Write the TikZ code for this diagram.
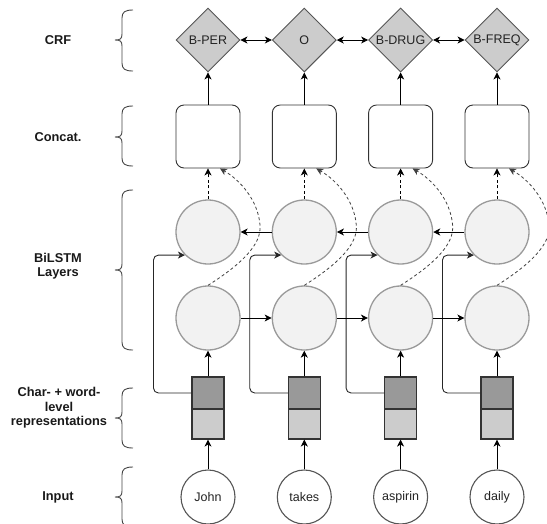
\documentclass[tikz,border=0pt]{standalone}
\usepackage{fontspec}
\setmainfont{Liberation Sans}
\usetikzlibrary{shapes.geometric,arrows.meta,calc}
\definecolor{crffill}{HTML}{CCCCCC}
\definecolor{crfborder}{HTML}{555555}
\definecolor{boxborder}{HTML}{333333}
\definecolor{lstmfill}{HTML}{F2F2F2}
\definecolor{lstmborder}{HTML}{9A9A9A}
\definecolor{cdark}{HTML}{999999}
\definecolor{clight}{HTML}{CCCCCC}
\definecolor{repborder}{HTML}{333333}
\definecolor{inpborder}{HTML}{555555}
\definecolor{braceborder}{HTML}{444444}
\definecolor{txtgray}{HTML}{222222}
\begin{document}
\begin{tikzpicture}[x=1pt,y=-1pt,
  font=\fontsize{12.5}{15}\selectfont,
  tipstyle/.style={-{Stealth[length=7pt,width=7pt,inset=2pt]}},
  conn/.style={line width=0.9pt, draw=black, tipstyle},
  dconn/.style={conn, dash pattern=on 3pt off 2.5pt},
  dcurve/.style={line width=0.8pt, draw=black!75, tipstyle, dash pattern=on 3pt off 2.5pt},
  both/.style={line width=0.9pt, draw=black, {Stealth[length=7pt,width=7pt,inset=2pt]}-{Stealth[length=7pt,width=7pt,inset=2pt]}},
  crf/.style={diamond, aspect=1, minimum width=64pt, minimum height=64pt, inner sep=0pt, fill=crffill, draw=crfborder, line width=0.9pt, text=txtgray},
  concat/.style={rectangle, rounded corners=8pt, minimum width=64pt, minimum height=63pt, inner sep=0pt, draw=boxborder, fill=white, line width=0.9pt},
  lstm/.style={circle, minimum size=64pt, inner sep=0pt, fill=lstmfill, draw=lstmborder, line width=1.3pt},
  repup/.style={rectangle, minimum width=32pt, minimum height=32pt, inner sep=0pt, fill=cdark, draw=repborder, line width=1.1pt},
  replow/.style={rectangle, minimum width=32pt, minimum height=30pt, inner sep=0pt, fill=clight, draw=repborder, line width=1.1pt},
  inp/.style={circle, minimum size=54pt, inner sep=0pt, fill=white, draw=inpborder, line width=1.1pt, text=txtgray},
  lab/.style={font=\fontsize{12.8}{14.5}\selectfont\bfseries, align=center, text=black!90},
  skip/.style={line width=0.9pt, draw=black!85, rounded corners=5pt, tipstyle}
]
\useasboundingbox (0,0) rectangle (547,523);
\clip (0,0) rectangle (547,523);

% labels
\node[lab] (lcrf) at (58,40) {CRF};
\node[lab] (lcat) at (58,137) {Concat.};
\node[lab] (llstm) at (58,266) {BiLSTM\\Layers};
\node[lab] (lrep) at (59,408) {Char- + word-\\level\\representations};
\node[lab] (linp) at (58,497) {Input};

% braces: top, mid, bottom
\foreach \t/\m/\b in {10/40/71, 106/137/166, 190/270/350, 388/418/448, 467/497/527}{
  \draw[draw=braceborder, line width=0.9pt]
    (133,\t) .. controls (125,\t) and (122,\t+2) .. (122,\t+8)
    -- (122,\m-6) .. controls (122,\m-1) and (120,\m) .. (115,\m)
    .. controls (120,\m) and (122,\m+1) .. (122,\m+6)
    -- (122,\b-8) .. controls (122,\b-2) and (125,\b) .. (133,\b);
}

% columns: nodes
\foreach \i/\x/\w/\tag in {1/208/John/B-PER, 2/304.3/takes/O, 3/400.6/aspirin/B-DRUG, 4/497/daily/B-FREQ}{
  \node[crf] (d\i) at (\x,40) {\tag};
  \node[concat] (c\i) at (\x,136.5) {};
  \node[lstm] (t\i) at (\x,232) {};
  \node[lstm] (b\i) at (\x,318) {};
  \node[repup] (ru\i) at (\x,393) {};
  \node[replow] (rl\i) at (\x,424) {};
  \node[inp] (i\i) at (\x,497) {\w};
}

% columns: connectors
\foreach \i/\x in {1/208, 2/304.3, 3/400.6, 4/497}{
  % skip connection from representation to top LSTM layer
  \draw[skip] (ru\i.west) -- ++(-38,0) |- (t\i.225);
  % input -> representation -> bottom LSTM
  \draw[conn] (i\i.north) -- (rl\i.south);
  \draw[conn] (ru\i.north) -- (b\i.south);
  % top LSTM -> concat (dashed)
  \draw[dconn] (t\i.north) -- (c\i.south);
  % bottom LSTM -> concat (dashed curve)
  \draw[dcurve] (b\i.north) .. controls (\x+32,265) and (\x+54,245) .. (\x+52,225)
    .. controls (\x+50,200) and (\x+32,180) .. ($(c\i.south)+(12,0)$);
  % concat -> CRF
  \draw[conn] (c\i.north) -- (d\i.south);
}

% horizontal recurrent connections
\foreach \a/\b in {1/2, 2/3, 3/4}{
  \draw[conn] (b\a.east) -- (b\b.west);
  \draw[conn] (t\b.west) -- (t\a.east);
  \draw[both] (d\a.east) -- (d\b.west);
}
\end{tikzpicture}
\end{document}
